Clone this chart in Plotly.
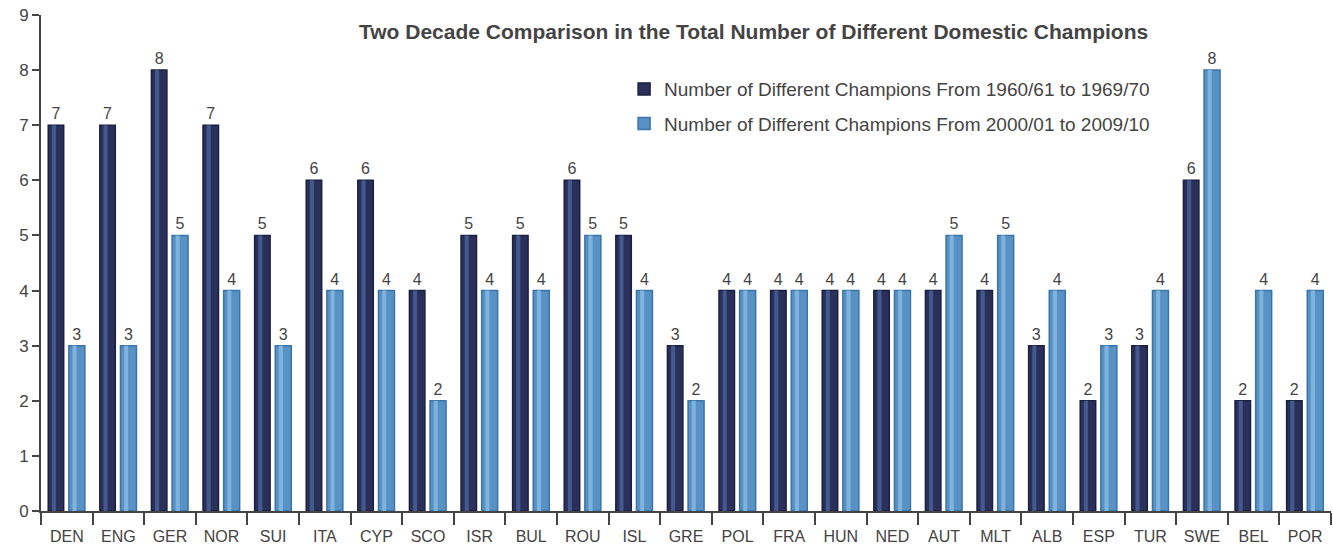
import plotly.graph_objects as go

countries = ['DEN', 'ENG', 'GER', 'NOR', 'SUI', 'ITA', 'CYP', 'SCO', 'ISR', 'BUL', 'ROU', 'ISL', 'GRE',
             'POL', 'FRA', 'HUN', 'NED', 'AUT', 'MLT', 'ALB', 'ESP', 'TUR', 'SWE', 'BEL', 'POR']
champs_1960s = [7, 7, 8, 7, 5, 6, 6, 4, 5, 5, 6, 5, 3, 4, 4, 4, 4, 4, 4, 3, 2, 3, 6, 2, 2]
champs_2000s = [3, 3, 5, 4, 3, 4, 4, 2, 4, 4, 5, 4, 2, 4, 4, 4, 4, 5, 5, 4, 3, 4, 8, 4, 4]

font = "Liberation Sans, Arial, sans-serif"
txt = "#444444"

fig = go.Figure()
# main "cylinders"
fig.add_trace(go.Bar(x=countries, y=champs_1960s, name="Number of Different Champions From 1960/61 to 1969/70",
                     legendgroup="a", offset=-0.36, width=0.30,
                     marker=dict(color="#2a3059", line=dict(color="#1b2040", width=1.5)),
                     text=champs_1960s, textposition="outside", cliponaxis=False,
                     textfont=dict(size=16, color=txt)))
fig.add_trace(go.Bar(x=countries, y=champs_2000s, name="Number of Different Champions From 2000/01 to 2009/10",
                     legendgroup="b", offset=0.04, width=0.31,
                     marker=dict(color="#5892c4", line=dict(color="#3b74a8", width=1.5)),
                     text=champs_2000s, textposition="outside", cliponaxis=False,
                     textfont=dict(size=16, color=txt)))
# highlight stripes
fig.add_trace(go.Bar(x=countries, y=champs_1960s, offset=-0.29, width=0.08, showlegend=False, hoverinfo="skip",
                     marker=dict(color="#43588c", line=dict(width=0))))
fig.add_trace(go.Bar(x=countries, y=champs_2000s, offset=0.11, width=0.08, showlegend=False, hoverinfo="skip",
                     marker=dict(color="#7fb2dc", line=dict(width=0))))

fig.update_layout(
    width=1333, height=547,
    margin=dict(l=41, r=2, t=15, b=34),
    paper_bgcolor="white", plot_bgcolor="white",
    font=dict(family=font, size=16, color=txt),
    barmode="overlay",
    showlegend=True,
    legend=dict(x=0.452, y=0.889, xanchor="left", yanchor="top", bgcolor="rgba(0,0,0,0)",
                font=dict(size=19, color=txt), tracegroupgap=7, itemwidth=30),
    annotations=[dict(text="<b>Two Decade Comparison in the Total Number of Different Domestic Champions</b>",
                      x=0.86, y=0.966, xref="paper", yref="paper", xanchor="right", yanchor="middle",
                      showarrow=False, font=dict(size=21, color=txt))],
)
fig.update_xaxes(showline=True, linecolor=txt, linewidth=2, ticks="outside", tickson="boundaries",
                 ticklen=12, tickcolor=txt, tickwidth=1.5, tickfont=dict(size=16, color=txt),
                 ticklabelstandoff=10)
fig.update_yaxes(range=[0, 9], dtick=1, showline=True, linecolor=txt, linewidth=2, ticks="outside",
                 ticklen=7, tickcolor=txt, tickwidth=2, showgrid=False, zeroline=False,
                 tickfont=dict(size=17, color=txt))

fig.write_html("out.html", config={"displayModeBar": False},
               post_script="document.body.style.margin='0';")
